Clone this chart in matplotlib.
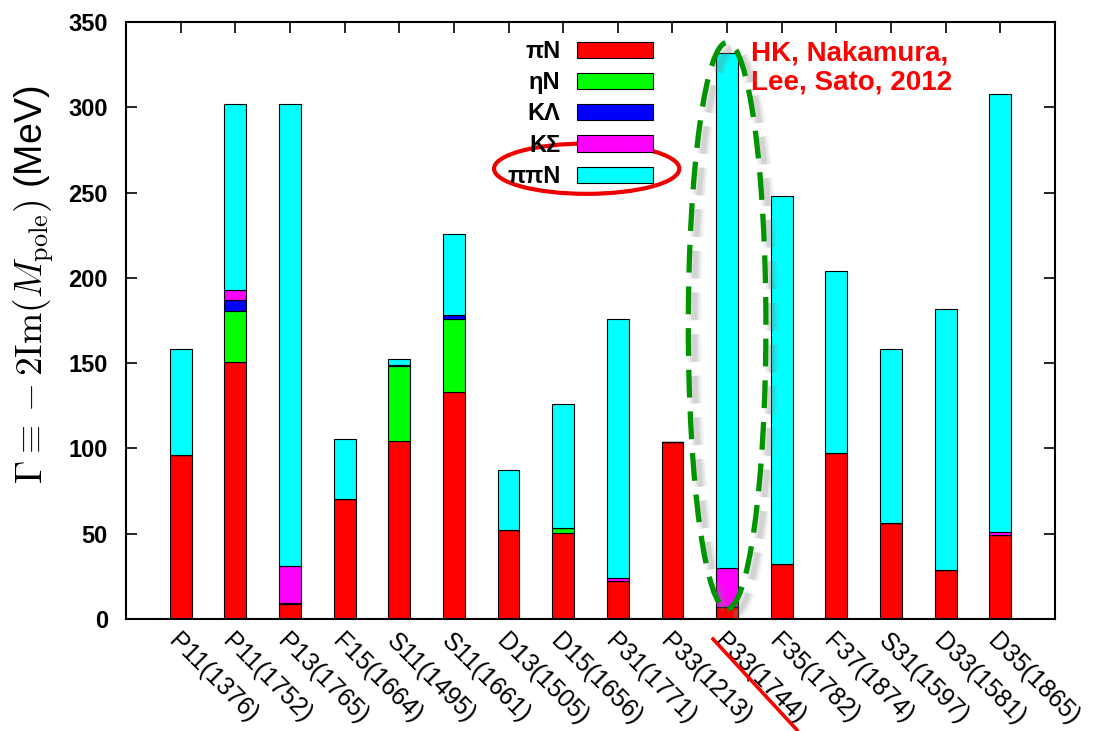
import matplotlib
matplotlib.use("Agg")
import matplotlib.pyplot as plt
import numpy as np
from matplotlib.patches import Ellipse
from matplotlib.lines import Line2D
from matplotlib.transforms import offset_copy

plt.rcParams['font.family'] = ['Liberation Sans', 'DejaVu Sans']
plt.rcParams['mathtext.fontset'] = 'cm'
plt.rcParams['lines.scale_dashes'] = False

# resonance poles and their partial widths (MeV) per decay channel
names = ["P11(1376)", "P11(1752)", "P13(1765)", "F15(1664)", "S11(1495)", "S11(1661)",
         "D13(1505)", "D15(1656)", "P31(1771)", "P33(1213)", "P33(1744)", "F35(1782)",
         "F37(1874)", "S31(1597)", "D33(1581)", "D35(1865)"]
piN   = [96, 150.5, 9, 70.5, 104.5, 133, 52, 50.5, 22.5, 104, 7, 32, 97.5, 56, 28.5, 49]
etaN  = [0, 30, 0, 0, 44, 43, 0, 3, 0, 0, 0, 0, 0, 0, 0, 0]
KLam  = [0, 6.5, 0.5, 0, 0.5, 2, 0, 0, 0, 0, 0, 0, 0, 0, 0, 0]
KSig  = [0, 6, 21.5, 0, 0, 0, 0, 0, 1.5, 0, 23, 0, 0, 0, 0, 2]
pipiN = [62, 109, 271, 35, 3.5, 48, 35.5, 72.5, 152, 0, 302, 216, 106.5, 102, 153.5, 257]

channels = ["πN", "ηN", "KΛ", "KΣ", "ππN"]
colors = ["#ff0000", "#00ff00", "#0000ff", "#ff00ff", "#00ffff"]

fig = plt.figure(figsize=(10.95, 7.31), dpi=100)
ax = fig.add_axes([126/1095, 1 - 619/731, 929/1095, 597/731])

x = np.arange(len(names))
bottom = np.zeros(len(names))
handles = []
for vals, lab, col in zip([piN, etaN, KLam, KSig, pipiN], channels, colors):
    b = ax.bar(x, vals, 0.4, bottom=bottom, color=col, edgecolor='black',
               linewidth=0.8, label=lab, zorder=2)
    handles.append(b)
    bottom += np.array(vals)

ax.set_xlim(-1, 16)
ax.set_ylim(0, 350)
ax.set_yticks(range(0, 351, 50))
ax.set_xticks(x)
ax.set_xticklabels(names, rotation=-45, ha='left', va='top', rotation_mode='anchor',
                   fontsize=18)
ax.tick_params(axis='x', bottom=False, top=True, direction='in', length=8, width=1.2, pad=7)
ax.tick_params(axis='y', left=True, right=True, direction='in', length=8, width=1.2, pad=13,
               labelsize=17)
for t in ax.get_yticklabels():
    t.set_fontweight('bold')
for s in ax.spines.values():
    s.set_linewidth(1.5)

ax.set_ylabel(r"$\Gamma \equiv -2\mathrm{Im}(M_{\rm pole})$ (MeV)", fontsize=27)
ax.yaxis.set_label_coords(-0.075, 0.56)

leg = ax.legend(handles=handles, loc='upper right', bbox_to_anchor=(0.567, 0.97),
                markerfirst=False, frameon=False, borderpad=0, borderaxespad=0,
                handlelength=3.2, handleheight=0.68, handletextpad=0.7,
                labelspacing=0.35, prop={'size': 17, 'weight': 'bold'})

ax.text(10.44, 339, "HK, Nakamura,\nLee, Sato, 2012", color='#ff0000', fontsize=20,
        fontweight='bold', ha='left', va='top', linespacing=1.15)

# dashed ellipse around P33(1744), with a soft shadow
for lw, a in [(10, 0.08), (7, 0.12), (4, 0.18)]:
    sh = Ellipse((10, 172), 1.42, 332, fill=False, ec='gray', lw=lw, alpha=a,
                 linestyle=(0, (20, 10)),
                 transform=offset_copy(ax.transData, fig, x=6, y=-6, units='dots'),
                 zorder=3)
    ax.add_patch(sh)
ax.add_patch(Ellipse((10, 172), 1.42, 332, fill=False, ec='#009400', lw=3.8,
                     linestyle=(0, (20, 10)), zorder=4))

# red ring around the pipiN legend entry
ax.add_patch(Ellipse((7.43, 264), 3.39, 29.5, fill=False, ec='#ee0000', lw=3, zorder=4,
                     clip_on=False))

# strike through the P33(1744) label
fig.add_artist(Line2D([713/1095, 797/1095], [1 - 639/731, 1 - 730/731],
                      color='#ff0000', lw=2.6))

fig.savefig("out.png", dpi=100)
